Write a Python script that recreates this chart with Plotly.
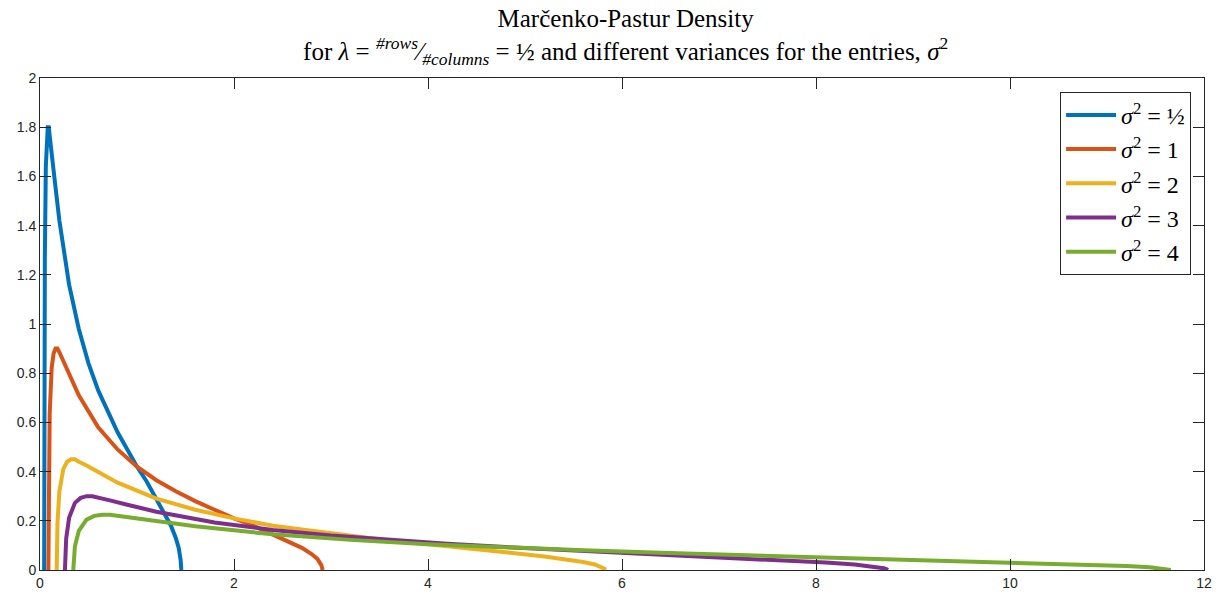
import plotly.graph_objects as go

# Marčenko-Pastur densities, lambda = 1/2, sampled along each curve
x_s05 = [0.0429, 0.045, 0.05, 0.06, 0.07, 0.08, 0.09, 0.10, 0.12, 0.15, 0.2, 0.3, 0.4, 0.5, 0.6,
         0.7, 0.8, 0.9, 1.0, 1.1, 1.2, 1.3, 1.35, 1.4, 1.43, 1.45, 1.455, 1.457]
y_s05 = [0, 0.77, 1.27, 1.64, 1.76, 1.80, 1.80, 1.77, 1.70, 1.59, 1.42, 1.16, 0.98, 0.84, 0.73,
         0.64, 0.56, 0.49, 0.42, 0.36, 0.29, 0.22, 0.18, 0.13, 0.09, 0.04, 0.02, 0]

x_s1 = [0.086, 0.09, 0.10, 0.12, 0.14, 0.16, 0.18, 0.20, 0.24, 0.30, 0.4, 0.6, 0.8, 1.0, 1.2,
        1.4, 1.6, 1.8, 2.0, 2.2, 2.4, 2.6, 2.7, 2.8, 2.86, 2.9, 2.91, 2.914]
y_s1 = [0, 0.385, 0.635, 0.82, 0.88, 0.90, 0.90, 0.885, 0.85, 0.795, 0.71, 0.58, 0.49, 0.42, 0.365,
        0.32, 0.28, 0.245, 0.21, 0.18, 0.145, 0.11, 0.09, 0.065, 0.045, 0.02, 0.01, 0]

x_s2 = [0.172, 0.18, 0.20, 0.24, 0.28, 0.32, 0.36, 0.40, 0.48, 0.60, 0.8, 1.2, 1.6, 2.0, 2.4,
        2.8, 3.2, 3.6, 4.0, 4.4, 4.8, 5.2, 5.4, 5.6, 5.72, 5.8, 5.82, 5.828]
y_s2 = [0, 0.19, 0.32, 0.41, 0.44, 0.45, 0.45, 0.44, 0.425, 0.40, 0.355, 0.29, 0.245, 0.21, 0.18,
        0.16, 0.14, 0.12, 0.105, 0.09, 0.0725, 0.055, 0.045, 0.0325, 0.0225, 0.01, 0.005, 0]

x_s3 = [0.257, 0.27, 0.30, 0.36, 0.42, 0.48, 0.54, 0.60, 0.72, 0.90, 1.2, 1.8, 2.4, 3.0, 3.6,
        4.2, 4.8, 5.4, 6.0, 6.6, 7.2, 7.8, 8.1, 8.4, 8.58, 8.7, 8.73, 8.742]
y_s3 = [0, 0.128, 0.212, 0.273, 0.293, 0.30, 0.30, 0.295, 0.283, 0.265, 0.237, 0.193, 0.163, 0.14, 0.122,
        0.107, 0.093, 0.082, 0.07, 0.06, 0.048, 0.037, 0.03, 0.022, 0.015, 0.007, 0.003, 0]

x_s4 = [0.343, 0.36, 0.40, 0.48, 0.56, 0.64, 0.72, 0.80, 0.96, 1.2, 1.6, 2.4, 3.2, 4.0, 4.8,
        5.6, 6.4, 7.2, 8.0, 8.8, 9.6, 10.4, 10.8, 11.2, 11.44, 11.6, 11.64, 11.657]
y_s4 = [0, 0.096, 0.159, 0.205, 0.22, 0.225, 0.225, 0.221, 0.2125, 0.199, 0.1775, 0.145, 0.1225, 0.105, 0.091,
        0.08, 0.07, 0.061, 0.0525, 0.045, 0.036, 0.0275, 0.0225, 0.016, 0.011, 0.005, 0.0025, 0]

series_names = ["<i>σ</i><sup>2</sup> = ½", "<i>σ</i><sup>2</sup> = 1", "<i>σ</i><sup>2</sup> = 2",
                "<i>σ</i><sup>2</sup> = 3", "<i>σ</i><sup>2</sup> = 4"]
series_x = [x_s05, x_s1, x_s2, x_s3, x_s4]
series_y = [y_s05, y_s1, y_s2, y_s3, y_s4]
colors = ["#0072BD", "#D95319", "#EDB120", "#7E2F8E", "#77AC30"]

x_ticks = [0, 2, 4, 6, 8, 10, 12]
y_ticks = [0, 0.2, 0.4, 0.6, 0.8, 1, 1.2, 1.4, 1.6, 1.8, 2]
y_tick_text = ["0", "0.2", "0.4", "0.6", "0.8", "1", "1.2", "1.4", "1.6", "1.8", "2"]

fig = go.Figure()
for name, xs, ys, c in zip(series_names, series_x, series_y, colors):
    fig.add_trace(go.Scatter(x=xs, y=ys, mode="lines", name=name,
                             line=dict(color=c, width=4)))

axis_common = dict(showline=True, linecolor="#262626", linewidth=1, mirror="ticks",
                   ticks="inside", ticklen=11, tickcolor="#262626", tickwidth=1,
                   showgrid=False, zeroline=False,
                   tickfont=dict(family="Liberation Sans, Arial", size=14, color="#262626"))

fig.update_layout(
    width=1222, height=601,
    margin=dict(l=40, r=10, t=78, b=25),
    paper_bgcolor="white", plot_bgcolor="white",
    title=dict(
        text="Marčenko-Pastur Density<br>for <i>λ</i> = <sup><i>#rows</i></sup>⁄<sub><i>#columns</i></sub> = ½ "
             "and different variances for the entries, <i>σ</i><sup>2</sup>",
        x=0.512, xanchor="center", yref="container", y=0.955, yanchor="middle",
        font=dict(family="Liberation Serif, DejaVu Serif, serif", size=25, color="black")),
    xaxis=dict(range=[0, 12], tickvals=x_ticks, **axis_common),
    yaxis=dict(range=[0, 2], tickvals=y_ticks, ticktext=y_tick_text, **axis_common),
    legend=dict(x=0.9889, xanchor="right", y=0.972, yanchor="top",
                bgcolor="white", bordercolor="#262626", borderwidth=1,
                font=dict(family="Liberation Serif, DejaVu Serif, serif", size=24, color="black"),
                itemwidth=50, tracegroupgap=0),
    showlegend=True,
)

fig.write_html("out.html")
